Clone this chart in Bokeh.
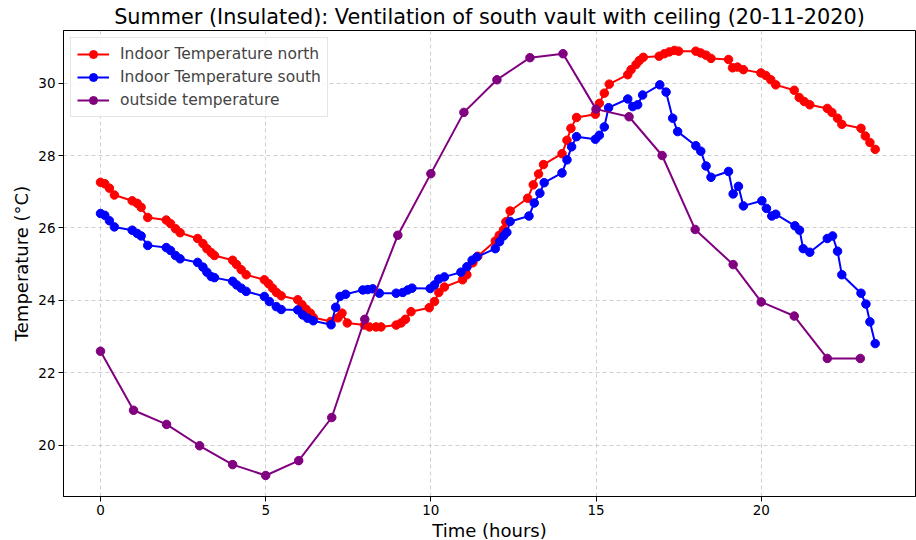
from bokeh.plotting import figure
from bokeh.models import Range1d, FixedTicker, Title
from bokeh.embed import file_html
from bokeh.resources import INLINE

# ---- data ----
t_north = [0.0, 0.13, 0.27, 0.42, 0.96, 1.11, 1.23, 1.43, 1.99, 2.12, 2.27, 2.41,
           2.94, 3.10, 3.22, 3.35, 3.45, 4.0, 4.12, 4.26, 4.41, 4.96, 5.09, 5.21,
           5.33, 5.47, 5.97, 6.10, 6.22, 6.35, 6.44, 6.97, 7.19, 7.31, 7.47, 7.99,
           8.14, 8.34, 8.49, 8.95, 9.10, 9.23, 9.40, 9.95, 10.11, 10.24, 10.41,
           10.96, 11.09, 11.27, 11.42, 11.95, 12.07, 12.20, 12.27, 12.40, 12.93,
           13.10, 13.26, 13.41, 13.97, 14.12, 14.24, 14.41, 14.98, 15.10, 15.25,
           15.40, 15.96, 16.06, 16.21, 16.31, 16.43, 16.91, 17.07, 17.22, 17.37,
           17.50, 18.02, 18.17, 18.33, 18.48, 19.01, 19.13, 19.28, 19.46, 19.99,
           20.14, 20.29, 20.44, 21.0, 21.15, 21.30, 21.47, 22.0, 22.14, 22.31,
           22.44, 23.02, 23.15, 23.29, 23.45]
temp_north = [27.26, 27.22, 27.10, 26.91, 26.75, 26.68, 26.57, 26.29, 26.22, 26.12,
              25.98, 25.87, 25.71, 25.57, 25.43, 25.32, 25.24, 25.11, 24.99, 24.85,
              24.71, 24.57, 24.46, 24.34, 24.22, 24.13, 24.02, 23.88, 23.76, 23.65,
              23.53, 23.42, 23.52, 23.65, 23.38, 23.32, 23.27, 23.27, 23.27, 23.32,
              23.38, 23.48, 23.69, 23.80, 23.97, 24.22, 24.37, 24.57, 24.71, 25.04,
              25.22, 25.64, 25.80, 25.95, 26.17, 26.47, 26.82, 27.19, 27.49, 27.75,
              28.05, 28.42, 28.75, 29.05, 29.14, 29.44, 29.72, 29.97, 30.23, 30.37,
              30.51, 30.62, 30.71, 30.74, 30.81, 30.86, 30.90, 30.88, 30.88, 30.83,
              30.77, 30.68, 30.65, 30.42, 30.44, 30.37, 30.28, 30.21, 30.09, 29.95,
              29.80, 29.60, 29.49, 29.40, 29.30, 29.19, 29.03, 28.86, 28.75, 28.54,
              28.36, 28.17]

t_south = [0.0, 0.13, 0.27, 0.42, 0.96, 1.11, 1.23, 1.43, 1.99, 2.12, 2.27, 2.41,
           2.94, 3.10, 3.22, 3.35, 3.45, 4.0, 4.12, 4.26, 4.41, 4.96, 5.11, 5.32,
           5.47, 5.97, 6.12, 6.27, 6.44, 6.98, 7.12, 7.25, 7.42, 7.94, 8.09, 8.24,
           8.44, 8.95, 9.15, 9.30, 9.43, 9.98, 10.11, 10.24, 10.41, 10.91, 11.09,
           11.25, 11.39, 11.95, 12.08, 12.20, 12.30, 12.40, 12.97, 13.13, 13.30,
           13.43, 13.97, 14.12, 14.26, 14.41, 14.98, 15.10, 15.25, 15.38, 15.96,
           16.11, 16.26, 16.41, 16.93, 17.12, 17.32, 17.47, 18.02, 18.17, 18.33,
           18.48, 19.01, 19.15, 19.31, 19.46, 20.02, 20.16, 20.32, 20.44, 21.02,
           21.16, 21.27, 21.47, 22.0, 22.16, 22.31, 22.44, 23.02, 23.17, 23.29, 23.45]
temp_south = [26.40, 26.35, 26.20, 26.03, 25.94, 25.85, 25.78, 25.52, 25.46, 25.38,
              25.24, 25.15, 25.05, 24.92, 24.78, 24.66, 24.63, 24.53, 24.43, 24.34,
              24.25, 24.11, 23.97, 23.83, 23.75, 23.74, 23.60, 23.51, 23.44, 23.33,
              23.81, 24.11, 24.17, 24.29, 24.30, 24.32, 24.20, 24.20, 24.22, 24.29,
              24.34, 24.33, 24.43, 24.59, 24.65, 24.78, 24.93, 25.11, 25.20, 25.43,
              25.62, 25.78, 25.88, 26.18, 26.33, 26.69, 26.96, 27.25, 27.52, 27.88,
              28.24, 28.52, 28.45, 28.56, 28.79, 29.32, 29.56, 29.35, 29.40, 29.67,
              29.95, 29.75, 29.03, 28.66, 28.27, 28.12, 27.71, 27.40, 27.56, 26.94,
              27.15, 26.61, 26.75, 26.54, 26.33, 26.38, 26.06, 25.94, 25.43, 25.33,
              25.71, 25.78, 25.36, 24.71, 24.20, 23.90, 23.41, 22.81]

t_out = [0, 1, 2, 3, 4, 5, 6, 7, 8, 9, 10, 11, 12, 13, 14, 15, 16, 17, 18, 19.15,
         20, 21, 22, 23]
temp_out = [22.60, 20.97, 20.58, 19.99, 19.47, 19.17, 19.58, 20.77, 23.48, 25.80,
            27.50, 29.19, 30.09, 30.70, 30.81, 29.28, 29.07, 28.00, 25.96, 24.99,
            23.96, 23.57, 22.40, 22.40]

x_ticks = [0, 5, 10, 15, 20]
y_ticks = [20, 22, 24, 26, 28, 30]

FONT = "DejaVu Sans"
X0, X1 = -1.12, 24.67

p = figure(width=916, height=540, output_backend="svg", toolbar_location=None,
           x_range=Range1d(X0, X1), y_range=Range1d(18.59, 31.45),
           title="Summer (Insulated): Ventilation of south vault with ceiling (20-11-2020)",
           min_border_left=63, min_border_right=1, min_border_top=20, min_border_bottom=44)

p.title.text_font = FONT
p.title.text_font_size = "20.8px"
p.title.text_font_style = "normal"
p.title.align = "center"
p.title.text_color = "#000000"
p.title.standoff = 4

series = [
    (t_north, temp_north, "red", "Indoor Temperature north"),
    (t_south, temp_south, "blue", "Indoor Temperature south"),
    (t_out, temp_out, "purple", "outside temperature"),
]
for xs, ys, col, lab in series:
    p.line(xs, ys, line_color=col, line_width=2, legend_label=lab)
    p.scatter(xs, ys, size=8.5, fill_color=col, line_color=col, legend_label=lab)

for ax in (p.xaxis[0], p.yaxis[0]):
    ax.major_label_text_font = FONT
    ax.major_label_text_font_size = "13.5px"
    ax.major_label_text_color = "#000000"
    ax.axis_label_text_font = FONT
    ax.axis_label_text_font_size = "18px"
    ax.axis_label_text_font_style = "normal"
    ax.axis_label_text_color = "#000000"
    ax.minor_tick_line_color = None
    ax.major_tick_in = 0
    ax.major_tick_out = 5
    ax.major_tick_line_color = "#000000"
    ax.axis_line_color = "#000000"
    ax.major_label_standoff = 3
    ax.axis_label_standoff = 3

p.yaxis.axis_label = "Temperature (°C)"
p.xaxis.ticker = FixedTicker(ticks=x_ticks)
p.yaxis.ticker = FixedTicker(ticks=y_ticks)

xlabel = Title(text="Time (hours)", align="center", text_font=FONT,
               text_font_size="18px", text_font_style="normal",
               text_color="#000000", standoff=0, offset=0)
p.add_layout(xlabel, "below")

p.outline_line_color = "#000000"
p.outline_line_width = 1
p.grid.grid_line_color = "#b0b0b0"
p.grid.grid_line_alpha = 0.6
p.grid.grid_line_dash = "4 3"

p.legend.location = "top_left"
p.legend.label_text_font = FONT
p.legend.label_text_font_size = "15.5px"
p.legend.border_line_color = "#cccccc"
p.legend.background_fill_alpha = 0.85
p.legend.glyph_width = 32
p.legend.spacing = 3
p.legend.padding = 6
p.legend.margin = 7
p.legend.label_standoff = 11

open("out.html", "w").write(file_html(p, INLINE))
